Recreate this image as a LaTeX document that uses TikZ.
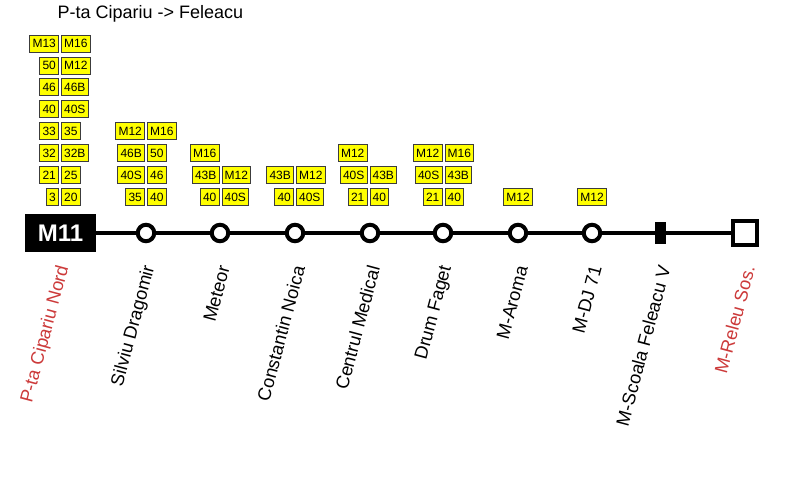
\documentclass[tikz,border=0pt]{standalone}
\usepackage{fontspec}
\setmainfont{Liberation Sans}
\usepackage{xcolor}
\usepackage{tikz}
\usetikzlibrary{positioning}
\definecolor{badgefill}{HTML}{FFFF00}
\definecolor{badgeline}{HTML}{3C3C3C}
\definecolor{endred}{HTML}{CC3A3A}

\begin{document}
\begin{tikzpicture}[x=1pt, y=-1pt, node distance=2pt,
  badge/.style={draw=badgeline, line width=1pt, fill=badgefill, inner xsep=2.6pt, inner ysep=0pt, minimum height=17pt, font=\fontsize{12}{12}\selectfont},
  stop/.style={circle, draw, line width=4pt, fill=white, minimum size=16.5pt, inner sep=0pt},
  stopname/.style={rotate=75, anchor=east, inner sep=0pt, font=\fontsize{18.3}{18}\selectfont},
  track/.style={line width=4pt}]
\useasboundingbox (0,0) rectangle (787,481);
\node[anchor=west, font=\fontsize{18}{18}\selectfont] (title) at (54,14) {P-ta Cipariu -> Feleacu};

% line and stops
\node[fill=black, text=white, minimum width=71pt, minimum height=37pt, inner sep=0pt, font=\fontsize{24}{24}\selectfont\bfseries] (m11) at (60.5,233) {M11};
\node[stop] (s1) at (146,233) {};
\node[stop] (s2) at (220,233) {};
\node[stop] (s3) at (295,233) {};
\node[stop] (s4) at (370,233) {};
\node[stop] (s5) at (443,233) {};
\node[stop] (s6) at (518,233) {};
\node[stop] (s7) at (592,233) {};
\node[fill=black, minimum width=11pt, minimum height=21pt, inner sep=0pt] (s8) at (660.5,233) {};
\node[draw, fill=white, line width=4.5pt, minimum size=24pt, inner sep=0pt] (term) at (745,233) {};
\draw[track] (m11) -- (s1) -- (s2) -- (s3) -- (s4) -- (s5) -- (s6) -- (s7) -- (s8) -- (term);

% names
\node[stopname, text=endred] (l0) at (64,266) {P-ta Cipariu Nord};
\foreach \x/\name [count=\k] in {146/Silviu Dragomir, 220/Meteor, 295/Constantin Noica, 370/Centrul Medical, 443/Drum Faget, 518/M-Aroma, 592/M-DJ 71, 660.5/M-Scoala Feleacu V}
  \node[stopname] (l\k) at (\x+4,266) {\name};
\node[stopname, text=endred] (l9) at (749,266) {M-Releu Sos.};

% connections
\foreach \l/\r [count=\i] in {3/20, 21/25, 32/32B, 33/35, 40/40S, 46/46B, 50/M12, M13/M16} {
  \node[badge, anchor=east] (a\i) at (59,{197-21.9*(\i-1)}) {\l};
  \node[badge, right=of a\i] (b\i) {\r};
}
\foreach \l/\r [count=\i] in {35/40, 40S/46, 46B/50, M12/M16} {
  \node[badge, anchor=east] (c\i) at (145,{197-21.9*(\i-1)}) {\l};
  \node[badge, right=of c\i] (d\i) {\r};
}
\foreach \l/\r [count=\i] in {40/40S, 43B/M12} {
  \node[badge, anchor=east] (e\i) at (219.5,{197-21.9*(\i-1)}) {\l};
  \node[badge, right=of e\i] (f\i) {\r};
}
\node[badge, anchor=east] (e3) at (219.5,153.2) {M16};
\foreach \l/\r [count=\i] in {40/40S, 43B/M12} {
  \node[badge, anchor=east] (g\i) at (294,{197-21.9*(\i-1)}) {\l};
  \node[badge, right=of g\i] (h\i) {\r};
}
\foreach \l/\r [count=\i] in {21/40, 40S/43B} {
  \node[badge, anchor=east] (i\i) at (367.5,{197-21.9*(\i-1)}) {\l};
  \node[badge, right=of i\i] (j\i) {\r};
}
\node[badge, anchor=east] (i3) at (367.5,153.2) {M12};
\foreach \l/\r [count=\i] in {21/40, 40S/43B, M12/M16} {
  \node[badge, anchor=east] (m\i) at (442.5,{197-21.9*(\i-1)}) {\l};
  \node[badge, right=of m\i] (n\i) {\r};
}
\node[badge] (p1) at (518,197) {M12};
\node[badge] (q1) at (592,197) {M12};
\end{tikzpicture}
\end{document}
